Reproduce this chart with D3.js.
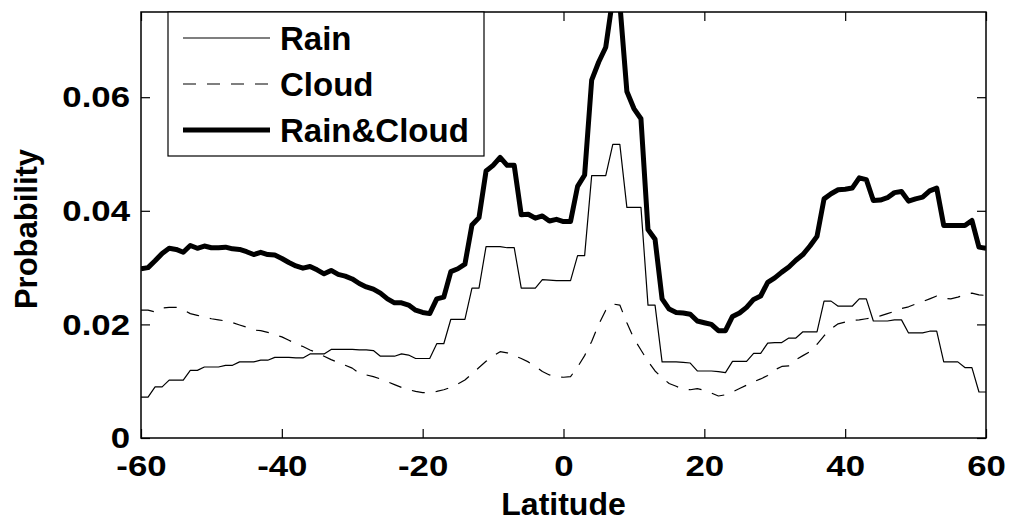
<!DOCTYPE html>
<html>
<head>
<meta charset="utf-8">
<script src="https://cdn.jsdelivr.net/npm/d3@7"></script>
<style>
  html, body { margin: 0; padding: 0; background: #fff; }
  svg { display: block; }
  text { font-family: "Liberation Sans", Arial, sans-serif; font-weight: bold; fill: #000; }
</style>
</head>
<body>
<div id="chart"></div>
<script>
// latitude grid, 1 degree
const latitudes = d3.range(-60, 61);

const rain = [
  0.0072, 0.0072, 0.0090, 0.0090, 0.0102, 0.0102, 0.0102, 0.0119, 0.0119, 0.0125,
  0.0125, 0.0125, 0.0128, 0.0128, 0.0134, 0.0134, 0.0134, 0.0137, 0.0137, 0.0142,
  0.0142, 0.0142, 0.0141, 0.0141, 0.0148, 0.0148, 0.0148, 0.0156, 0.0156, 0.0156,
  0.0156, 0.0155, 0.0155, 0.0154, 0.0144, 0.0144, 0.0144, 0.0148, 0.0146, 0.0140,
  0.0140, 0.0140, 0.0166, 0.0166, 0.0209, 0.0209, 0.0209, 0.0264, 0.0264, 0.0337,
  0.0337, 0.0337, 0.0335, 0.0335, 0.0264, 0.0264, 0.0264, 0.0279, 0.0278, 0.0277,
  0.0277, 0.0277, 0.0321, 0.0321, 0.0462, 0.0462, 0.0462, 0.0517, 0.0517, 0.0406,
  0.0406, 0.0406, 0.0234, 0.0234, 0.0134, 0.0134, 0.0134, 0.0133, 0.0132, 0.0118,
  0.0118, 0.0118, 0.0117, 0.0115, 0.0135, 0.0135, 0.0135, 0.0149, 0.0149, 0.0167,
  0.0168, 0.0168, 0.0176, 0.0176, 0.0187, 0.0187, 0.0187, 0.0241, 0.0241, 0.0232,
  0.0232, 0.0232, 0.0245, 0.0245, 0.0206, 0.0206, 0.0206, 0.0208, 0.0208, 0.0185,
  0.0185, 0.0185, 0.0188, 0.0188, 0.0134, 0.0134, 0.0134, 0.0124, 0.0124, 0.0081,
  0.0081
];

const cloud = [
  0.0225, 0.0225, 0.0222, 0.0229, 0.0230, 0.0230, 0.0226, 0.0219, 0.0216, 0.0213,
  0.0210, 0.0208, 0.0206, 0.0203, 0.0199, 0.0195, 0.0190, 0.0189, 0.0186, 0.0182,
  0.0178, 0.0172, 0.0166, 0.0161, 0.0155, 0.0150, 0.0144, 0.0138, 0.0133, 0.0128,
  0.0123, 0.0114, 0.0111, 0.0108, 0.0104, 0.0099, 0.0094, 0.0089, 0.0085, 0.0082,
  0.0080, 0.0080, 0.0082, 0.0085, 0.0089, 0.0095, 0.0102, 0.0113, 0.0124, 0.0135,
  0.0144, 0.0152, 0.0150, 0.0145, 0.0140, 0.0134, 0.0126, 0.0117, 0.0111, 0.0108,
  0.0107, 0.0108, 0.0125, 0.0145, 0.0170, 0.0200, 0.0225, 0.0236, 0.0234, 0.0203,
  0.0175, 0.0155, 0.0135, 0.0118, 0.0106, 0.0096, 0.0091, 0.0086, 0.0085, 0.0087,
  0.0084, 0.0079, 0.0074, 0.0076, 0.0081, 0.0087, 0.0093, 0.0099, 0.0104, 0.0110,
  0.0120, 0.0126, 0.0127, 0.0138, 0.0145, 0.0152, 0.0165, 0.0180, 0.0192, 0.0201,
  0.0204, 0.0207, 0.0208, 0.0210, 0.0212, 0.0215, 0.0219, 0.0223, 0.0228, 0.0231,
  0.0236, 0.0240, 0.0245, 0.0250, 0.0246, 0.0245, 0.0248, 0.0252, 0.0255, 0.0252,
  0.0251
];

const rainCloud = [
  0.0298, 0.0300, 0.0312, 0.0325, 0.0334, 0.0332, 0.0327, 0.0339, 0.0334, 0.0338,
  0.0335, 0.0335, 0.0336, 0.0333, 0.0332, 0.0328, 0.0323, 0.0327, 0.0323, 0.0322,
  0.0316, 0.0309, 0.0303, 0.0299, 0.0302, 0.0296, 0.0289, 0.0295, 0.0288, 0.0285,
  0.0280, 0.0272, 0.0266, 0.0262, 0.0255, 0.0245, 0.0238, 0.0238, 0.0234, 0.0225,
  0.0221, 0.0219, 0.0245, 0.0248, 0.0293, 0.0298, 0.0306, 0.0375, 0.0388, 0.0470,
  0.0480, 0.0494, 0.0480, 0.0480, 0.0393, 0.0394, 0.0387, 0.0391, 0.0382, 0.0385,
  0.0381, 0.0381, 0.0443, 0.0463, 0.0630, 0.0662, 0.0688, 0.0775, 0.0765, 0.0610,
  0.0580, 0.0562, 0.0367, 0.0350, 0.0245, 0.0227, 0.0221, 0.0220, 0.0218, 0.0206,
  0.0203, 0.0200, 0.0189, 0.0189, 0.0214, 0.0220, 0.0230, 0.0244, 0.0250, 0.0274,
  0.0282, 0.0292, 0.0301, 0.0313, 0.0323, 0.0338, 0.0355, 0.0421, 0.0430, 0.0437,
  0.0438, 0.0440, 0.0458, 0.0455, 0.0418, 0.0419, 0.0423, 0.0432, 0.0434, 0.0417,
  0.0421, 0.0424, 0.0435, 0.0440, 0.0374, 0.0374, 0.0374, 0.0374, 0.0383, 0.0336,
  0.0334
];

const xTicks = [-60, -40, -20, 0, 20, 40, 60];
const yTicks = [0, 0.02, 0.04, 0.06];
const yTickLabels = ['0', '0.02', '0.04', '0.06'];

const series = [
  { name: 'Rain', values: rain, width: 1.2, dash: null },
  { name: 'Cloud', values: cloud, width: 1.2, dash: '13,11' },
  { name: 'Rain&Cloud', values: rainCloud, width: 5, dash: null }
];

const width = 1012, height = 523;
const margin = { top: 12, right: 26, bottom: 85, left: 141 };
const iw = width - margin.left - margin.right;
const ih = height - margin.top - margin.bottom;

const svg = d3.select('#chart').append('svg')
  .attr('width', width).attr('height', height);
const g = svg.append('g').attr('transform', `translate(${margin.left},${margin.top})`);

const x = d3.scaleLinear().domain([-60, 60]).range([0, iw]);
const y = d3.scaleLinear().domain([0, 0.075]).range([ih, 0]);

svg.append('defs').append('clipPath').attr('id', 'plot-clip')
  .append('rect').attr('width', iw).attr('height', ih);

// lines
const line = (vals) => d3.line()
  .x((d, i) => x(latitudes[i]))
  .y((d) => y(d))(vals);

const plot = g.append('g').attr('clip-path', 'url(#plot-clip)');
series.forEach((s) => {
  plot.append('path')
    .attr('d', line(s.values))
    .attr('fill', 'none')
    .attr('stroke', '#000')
    .attr('stroke-width', s.width)
    .attr('stroke-linejoin', 'round')
    .attr('stroke-dasharray', s.dash);
});

// tick labels are a bit wider than the font, stretch around their anchor
const sx = 1.16;
const stretchText = (sel) => sel.selectAll('text').each(function () {
  const t = d3.select(this);
  const x0 = +t.attr('x') || 0;
  t.attr('transform', `translate(${x0 * (1 - sx)},0) scale(${sx},1)`);
});

const tickLen = 9;
const axisStyle = (sel) => {
  sel.select('.domain').remove();
  sel.selectAll('line').attr('stroke', '#000').attr('stroke-width', 1.2);
  sel.selectAll('text').attr('font-size', 30).attr('fill', '#000');
};

g.append('g').attr('transform', `translate(0,${ih})`)
  .call(d3.axisBottom(x).tickValues(xTicks).tickSize(-tickLen).tickPadding(17).tickFormat((d) => String(d)))
  .call(axisStyle)
  .call((sel) => sel.selectAll('text').attr('dy', '0.71em'))
  .call(stretchText);
g.append('g')
  .call(d3.axisTop(x).tickValues(xTicks).tickSize(-tickLen).tickFormat(''))
  .call(axisStyle);
g.append('g')
  .call(d3.axisLeft(y).tickValues(yTicks).tickSize(-tickLen).tickPadding(11)
    .tickFormat((d, i) => yTickLabels[i]))
  .call(axisStyle)
  .call(stretchText);
g.append('g').attr('transform', `translate(${iw},0)`)
  .call(d3.axisRight(y).tickValues(yTicks).tickSize(-tickLen).tickFormat(''))
  .call(axisStyle);

g.append('rect')
  .attr('width', iw).attr('height', ih)
  .attr('fill', 'none').attr('stroke', '#000').attr('stroke-width', 1.5);

// axis titles
svg.append('text')
  .attr('x', margin.left + iw / 2).attr('y', 515)
  .attr('text-anchor', 'middle').attr('font-size', 32)
  .text('Latitude');
svg.append('text')
  .attr('transform', `translate(37,${margin.top + ih / 2 + 4}) rotate(-90)`)
  .attr('text-anchor', 'middle').attr('font-size', 31)
  .text('Probability');

// legend
const lg = svg.append('g').attr('transform', 'translate(168,12)');
lg.append('rect')
  .attr('width', 316).attr('height', 144)
  .attr('fill', '#fff').attr('stroke', '#000').attr('stroke-width', 1.2);
series.forEach((s, i) => {
  const cy = 26 + i * 46;
  lg.append('line')
    .attr('x1', 15).attr('x2', 102).attr('y1', cy).attr('y2', cy)
    .attr('stroke', '#000').attr('stroke-width', s.width)
    .attr('stroke-dasharray', s.dash);
  lg.append('text')
    .attr('x', 112).attr('y', cy).attr('dy', '0.36em')
    .attr('font-size', 33)
    .text(s.name);
});
</script>
</body>
</html>
